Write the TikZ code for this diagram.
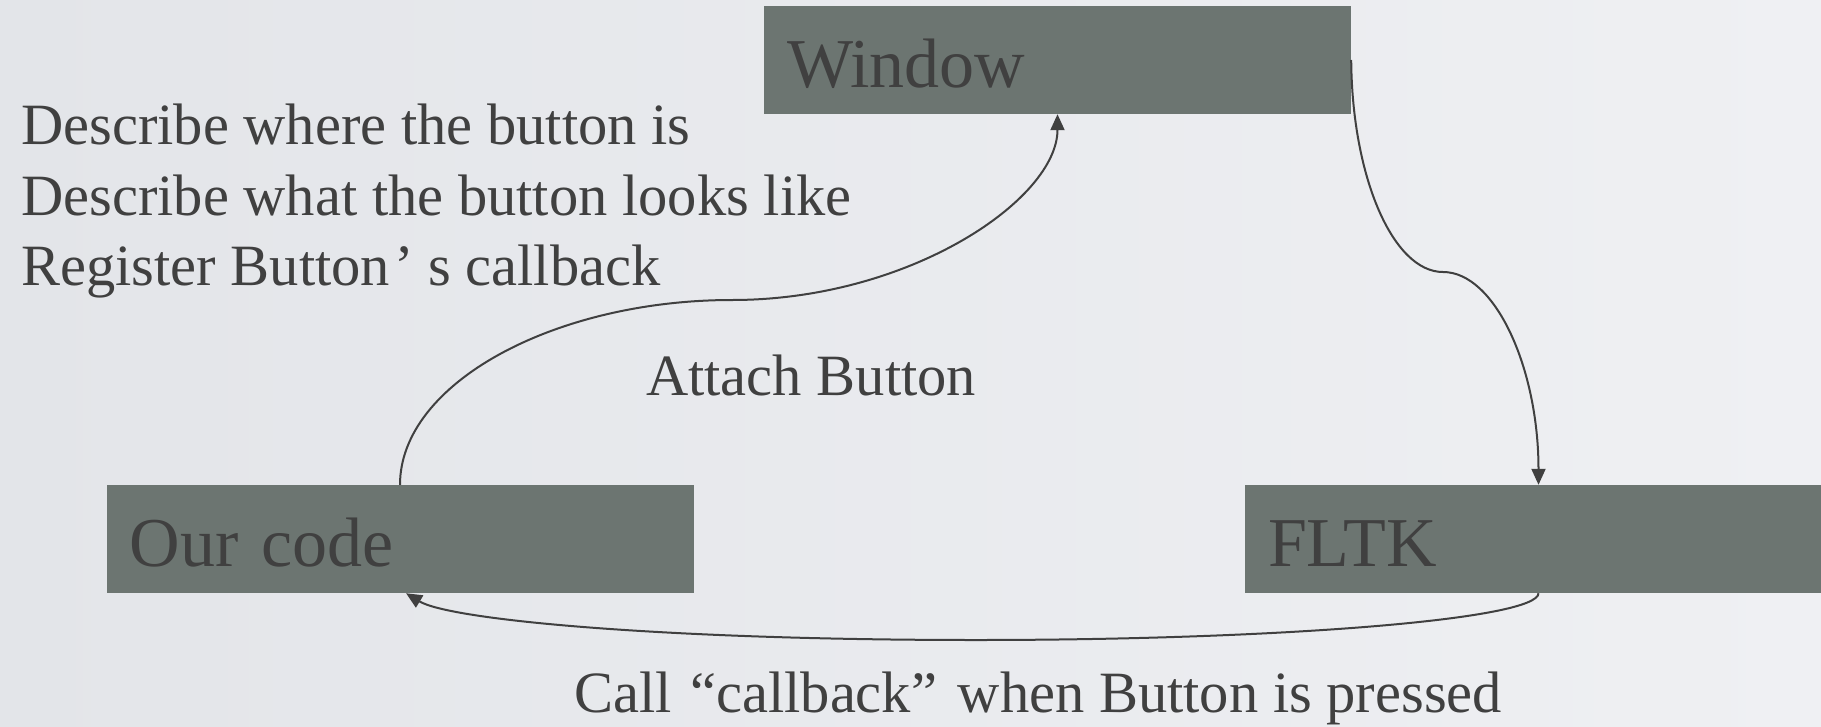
\documentclass[tikz,border=0pt]{standalone}
\usepackage{fontspec}
\setmainfont{Liberation Serif}
\usetikzlibrary{arrows.meta}
\definecolor{bgA}{HTML}{E3E5E9}
\definecolor{bgB}{HTML}{EFF0F3}
\definecolor{boxfill}{HTML}{6C7571}
\definecolor{ink}{HTML}{404040}
\begin{document}
\begin{tikzpicture}[x=1pt,y=-1pt,
  box/.style={fill=boxfill, minimum width=587pt, minimum height=108pt, text width=541pt,
    inner xsep=23pt, inner ysep=0pt, align=left, text height=54pt, text depth=0pt,
    font=\fontsize{70}{84}\selectfont, text=ink},
  lbl/.style={font=\fontsize{58.5}{70.6}\selectfont, text=ink, inner sep=0pt, align=left},
  conn/.style={draw=ink, line width=2pt, -{Triangle[length=16pt,width=14pt]}}]
\shade[left color=bgA,right color=bgB] (0,0) rectangle (1821,726);
\useasboundingbox (0,0) rectangle (1821,726);
\node[box] (win) at (1057.5,60) {Window};
\node[box] (oc) at (400,539) {Our code};
\node[box] (fl) at (1538.5,539) {FLTK};
\node[lbl, anchor=north west] (desc) at (21,104) {Describe where the button is\\Describe what the button looks like\\Register Button\kern4pt’ s callback};
\node[lbl, anchor=base west] (att) at (646,395) {Attach Button};
\node[lbl, anchor=base west] (call) at (574,712) {Call \kern4pt“callback”\kern6pt{} when Button is pressed};
\coordinate (m1) at (732,300);
\draw[conn] (oc.north) .. controls (400,383) and (555,300) .. (m1) .. controls (910,300) and (1057.5,199) .. (win.south);
\coordinate (m2) at (1443,272);
\draw[conn] (win.east) .. controls (1352,177) and (1393,272) .. (m2) .. controls (1495,272) and (1538.5,368) .. (fl.north);
\coordinate (m3) at (976,640);
\draw[conn] (fl.south) .. controls (1538.5,619) and (1286,640) .. (m3) .. controls (663,640) and (450,620) .. ([xshift=6pt]oc.south);
\end{tikzpicture}
\end{document}
